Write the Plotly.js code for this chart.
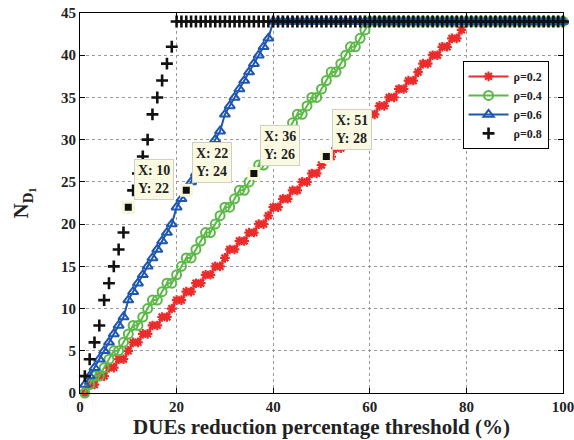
<!DOCTYPE html>
<html>
<head>
<meta charset="utf-8">
<script src="https://cdn.plot.ly/plotly-3.0.1.min.js"></script>
<style>
  html, body { margin: 0; padding: 0; background: #fff; }
  #chart { width: 574px; height: 440px; }
</style>
</head>
<body>
<div id="chart"></div>
<script>
// Threshold values (%)
const thresholds = [1,2,3,4,5,6,7,8,9,10,11,12,13,14,15,16,17,18,19,20,
  21,22,23,24,25,26,27,28,29,30,31,32,33,34,35,36,37,38,39,40,
  41,42,43,44,45,46,47,48,49,50,51,52,53,54,55,56,57,58,59,60,
  61,62,63,64,65,66,67,68,69,70,71,72,73,74,75,76,77,78,79,80,
  81,82,83,84,85,86,87,88,89,90,91,92,93,94,95,96,97,98,99,100];

const seriesNames = ["ρ=0.2", "ρ=0.4", "ρ=0.6", "ρ=0.8"];

const rho02 = [0,1,1,2,2,3,3,4,4,5,6,6,7,7,8,8,9,9,10,11,
  11,12,12,13,13,14,14,15,15,16,17,17,18,18,19,19,20,20,21,22,
  22,23,23,24,24,25,25,26,26,27,28,28,29,29,30,30,31,31,32,33,
  33,34,34,35,35,36,36,37,37,38,39,39,40,40,41,41,42,42,43,44,
  44,44,44,44,44,44,44,44,44,44,44,44,44,44,44,44,44,44,44,44];

const rho04 = [0,1,2,2,3,4,5,5,6,7,8,8,9,10,11,
  11,12,13,13,14,15,16,16,17,18,19,19,20,21,22,
  22,23,24,24,25,26,27,27,28,29,30,30,31,32,33,
  33,34,35,35,36,37,38,38,39,40,41,41,42,43,44,
  44,44,44,44,44,44,44,44,44,44,44,44,44,44,44,44,44,44,44,44,
  44,44,44,44,44,44,44,44,44,44,44,44,44,44,44,44,44,44,44,44];

const rho06 = [1,2,3,4,5,6,7,8,9,11,
  12,13,14,15,16,17,18,19,20,22,
  23,24,25,26,27,28,29,30,31,33,
  34,35,36,37,38,39,40,41,42,44,
  44,44,44,44,44,44,44,44,44,44,44,44,44,44,44,44,44,44,44,44,
  44,44,44,44,44,44,44,44,44,44,44,44,44,44,44,44,44,44,44,44,
  44,44,44,44,44,44,44,44,44,44,44,44,44,44,44,44,44,44,44,44];

const rho08 = [2,4,6,8,11,13,15,17,19,22,24,26,28,30,33,35,37,39,41,44,
  44,44,44,44,44,44,44,44,44,44,44,44,44,44,44,44,44,44,44,44,
  44,44,44,44,44,44,44,44,44,44,44,44,44,44,44,44,44,44,44,44,
  44,44,44,44,44,44,44,44,44,44,44,44,44,44,44,44,44,44,44,44,
  44,44,44,44,44,44,44,44,44,44,44,44,44,44,44,44,44,44,44,44];

// Data tips
const tipX = [10, 22, 36, 51];
const tipY = [22, 24, 26, 28];

const xTicks = [0, 20, 40, 60, 80, 100];
const yTicks = [0, 5, 10, 15, 20, 25, 30, 35, 40, 45];

const serif = "Liberation Serif";
const RED = "#ec2b2b", GREEN = "#5cb947", BLUE = "#1e56b0";

const traces = [
  { x: thresholds, y: rho02, name: seriesNames[0], type: "scatter", mode: "lines+markers",
    line: { color: RED, width: 2 },
    marker: { symbol: "asterisk-open", size: 8, color: RED, line: { color: RED, width: 2.2 } },
    cliponaxis: false },
  { x: thresholds, y: rho04, name: seriesNames[1], type: "scatter", mode: "lines+markers",
    line: { color: GREEN, width: 2 },
    marker: { symbol: "circle-open", size: 9, color: GREEN, line: { color: GREEN, width: 2 } },
    cliponaxis: false },
  { x: thresholds, y: rho06, name: seriesNames[2], type: "scatter", mode: "lines+markers",
    line: { color: BLUE, width: 2 },
    marker: { symbol: "triangle-up-open", size: 9, color: BLUE, line: { color: BLUE, width: 2 } },
    cliponaxis: false },
  { x: thresholds, y: rho08, name: seriesNames[3], type: "scatter", mode: "markers",
    marker: { symbol: "cross-thin-open", size: 8.5, color: "#111", line: { color: "#111", width: 2.6 } },
    cliponaxis: false },
  { x: tipX, y: tipY, type: "scatter", mode: "markers", showlegend: false, hoverinfo: "skip",
    marker: { symbol: "square", size: 10, color: "#111", line: { color: "#f6f6d8", width: 3 } },
    cliponaxis: false }
];

const annotations = tipX.map((x, i) => ({
  x: x, y: tipY[i], xref: "x", yref: "y",
  text: "X: " + x + "<br>Y: " + tipY[i],
  showarrow: false, xanchor: "left", yanchor: "bottom",
  xshift: 6, yshift: 7, align: "left",
  bgcolor: "#fafae2", bordercolor: "#cfcfc5", borderwidth: 1, borderpad: 3,
  font: { family: serif, size: 14, color: "#222", weight: "bold" }
}));

const axisCommon = {
  showline: true, linecolor: "#000", linewidth: 1, mirror: "ticks",
  ticks: "inside", ticklen: 5, tickcolor: "#000", tickwidth: 1,
  showgrid: true, gridcolor: "#9a9a9a", gridwidth: 1, griddash: "dot",
  zeroline: false, ticklabeloverflow: "allow",
  tickfont: { family: serif, size: 15, color: "#222", weight: "bold" }
};

const layout = {
  width: 574, height: 440,
  margin: { l: 80, r: 11, t: 13, b: 47 },
  paper_bgcolor: "#fff", plot_bgcolor: "#fff",
  font: { family: serif },
  xaxis: Object.assign({}, axisCommon, {
    range: [0, 100], tickvals: xTicks, ticktext: xTicks.map(String),
    title: { text: "DUEs reduction percentage threshold (%)", standoff: 5,
      font: { family: serif, size: 21, color: "#222", weight: "bold" } }
  }),
  yaxis: Object.assign({}, axisCommon, {
    range: [0, 45], tickvals: yTicks, ticktext: yTicks.map(String),
    title: { text: "N<sub>D<sub>1</sub></sub>", standoff: 26,
      font: { family: serif, size: 21, color: "#222", weight: "bold" } }
  }),
  showlegend: true,
  legend: {
    x: 0.792, y: 0.874, xanchor: "left", yanchor: "top",
    bgcolor: "#fff", bordercolor: "#000", borderwidth: 1,
    font: { family: serif, size: 12, color: "#222", weight: "bold" },
    tracegroupgap: 0, itemwidth: 40, entrywidth: 88, entrywidthmode: "pixels"
  },
  annotations: annotations
};

Plotly.newPlot("chart", traces, layout, { staticPlot: true, displayModeBar: false });
</script>
</body>
</html>
